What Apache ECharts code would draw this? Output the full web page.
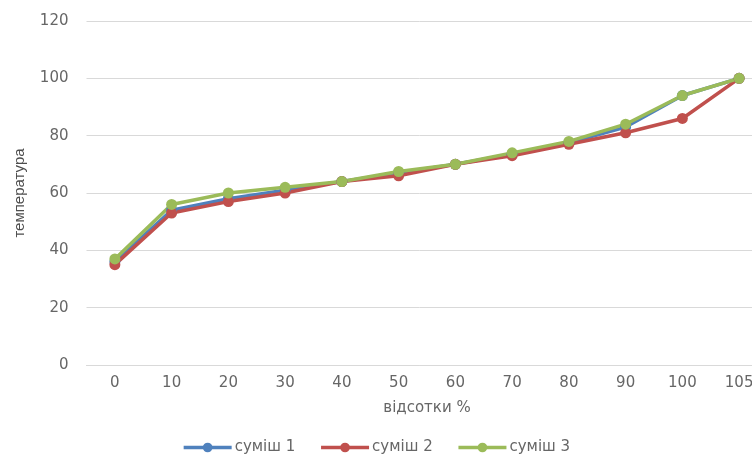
<!DOCTYPE html>
<html>
<head>
<meta charset="utf-8">
<script src="https://cdn.jsdelivr.net/npm/echarts@6/dist/echarts.min.js"></script>
<style>
  html, body { margin: 0; padding: 0; background: #fff; }
  #chart { width: 752px; height: 457px; }
</style>
</head>
<body>
<div id="chart"></div>
<script>
// Percent categories along the x axis
const categories = ['0', '10', '20', '30', '40', '50', '60', '70', '80', '90', '100', '105'];

// Temperature readings for each mixture
const mix1 = [36, 54, 58, 61, 64, 67, 70, 73.5, 77.5, 83, 94, 100];
const mix2 = [35, 53, 57, 60, 64, 66, 70, 73, 77, 81, 86, 100];
const mix3 = [37, 56, 60, 62, 64, 67.5, 70, 74, 78, 84, 94, 100];

const seriesNames = ['суміш 1', 'суміш 2', 'суміш 3'];
const colors = ['#4F81BD', '#C0504D', '#9BBB59'];

const font = 'DejaVu Sans';
const labelColor = '#666666';
const chart = echarts.init(document.getElementById('chart'));

function lineSeries(name, data, color) {
  return {
    name: name,
    type: 'line',
    data: data,
    symbol: 'circle',
    symbolSize: 11,
    lineStyle: { color: color, width: 3.5 },
    itemStyle: { color: color },
    animation: false
  };
}

chart.setOption({
  color: colors,
  // plot area runs slightly past the right edge of the canvas
  grid: { left: 86.5, width: 681, top: 21, height: 344, containLabel: false, outerBoundsMode: 'none' },
  xAxis: {
    type: 'category',
    data: categories,
    boundaryGap: true,
    name: 'відсотки %',
    nameLocation: 'middle',
    nameGap: 36,
    nameTextStyle: { color: labelColor, fontSize: 15, fontFamily: font },
    axisLine: { show: true, lineStyle: { color: '#D9D9D9' } },
    axisTick: { show: false },
    axisLabel: { color: labelColor, fontSize: 15, fontFamily: font, margin: 11 }
  },
  yAxis: {
    type: 'value',
    min: 0,
    max: 120,
    interval: 20,
    name: 'температура',
    nameLocation: 'middle',
    nameGap: 59,
    nameTextStyle: { color: '#4d4d4d', fontSize: 15, fontFamily: 'Liberation Sans Narrow, Liberation Sans' },
    axisLine: { show: false },
    axisTick: { show: false },
    axisLabel: { color: labelColor, fontSize: 15, fontFamily: font, margin: 18 },
    splitLine: { lineStyle: { color: '#D9D9D9', width: 1 } }
  },
  legend: {
    data: seriesNames,
    left: 'center',
    top: 435,
    itemWidth: 48,
    itemHeight: 12,
    itemGap: 24,
    lineStyle: { width: 3.5 },
    textStyle: { color: labelColor, fontSize: 15, fontFamily: font, padding: [0, 0, 0, -2] }
  },
  series: [
    lineSeries(seriesNames[0], mix1, colors[0]),
    lineSeries(seriesNames[1], mix2, colors[1]),
    lineSeries(seriesNames[2], mix3, colors[2])
  ]
});
</script>
</body>
</html>
